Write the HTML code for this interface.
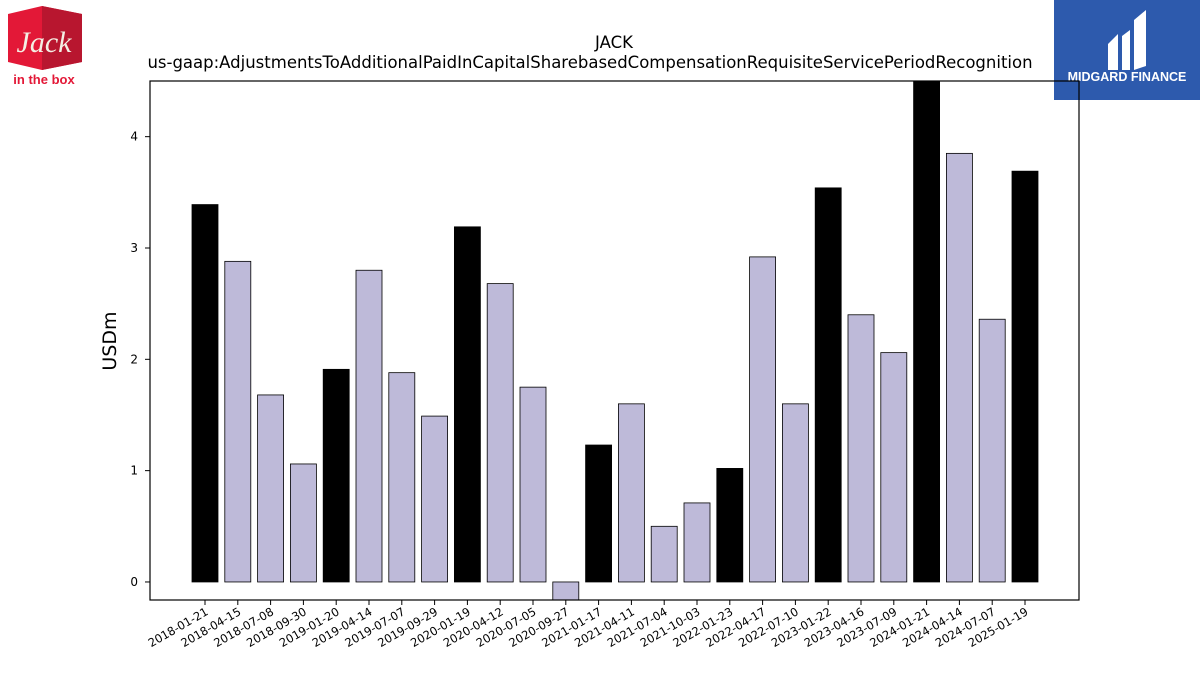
<!DOCTYPE html>
<html><head><meta charset="utf-8"><style>
body{margin:0;background:#fff;width:1200px;height:675px;overflow:hidden;font-family:"Liberation Sans","DejaVu Sans",sans-serif}
</style></head><body>
<svg id="chart" width="1200" height="675" xmlns="http://www.w3.org/2000/svg" font-family="DejaVu Sans, Liberation Sans, sans-serif">
<g>
<path d="M8,14 L42,6 L82,14 L82,62 L42,70 L8,62 Z" fill="#e31837"/>
<path d="M42,6 L82,14 L82,62 L42,70 Z" fill="#b8162f"/>
<text x="44" y="52" font-family="Liberation Serif, serif" font-style="italic" font-size="30" fill="#f4efe4" text-anchor="middle">Jack</text>
<text x="44" y="84" font-size="13" font-weight="bold" fill="#e31837" text-anchor="middle" font-family="Liberation Sans, sans-serif">in the box</text>
</g>
<g>
<rect x="1054" y="0" width="146" height="100" fill="#2d5aad"/>
<path d="M1108,44 L1118,34 L1118,70 L1108,70 Z M1122,36 L1130,30 L1130,70 L1122,70 Z M1134,20 L1146,10 L1146,66 L1134,70 Z" fill="#fff"/>
<text x="1127" y="81" font-size="12.5" font-weight="bold" fill="#fff" text-anchor="middle" font-family="Liberation Sans, sans-serif">MIDGARD FINANCE</text>
</g>
<text x="614" y="48" font-size="16.5" text-anchor="middle">JACK</text>
<text x="590" y="68" font-size="16.5" text-anchor="middle">us-gaap:AdjustmentsToAdditionalPaidInCapitalSharebasedCompensationRequisiteServicePeriodRecognition</text>
<g id="plot"></g>
</svg>
<script>
const categories=["2018-01-21","2018-04-15","2018-07-08","2018-09-30","2019-01-20","2019-04-14","2019-07-07","2019-09-29","2020-01-19","2020-04-12","2020-07-05","2020-09-27","2021-01-17","2021-04-11","2021-07-04","2021-10-03","2022-01-23","2022-04-17","2022-07-10","2023-01-22","2023-04-16","2023-07-09","2024-01-21","2024-04-14","2024-07-07","2025-01-19"];
const values=[3.39,2.88,1.68,1.06,1.91,2.80,1.88,1.49,3.19,2.68,1.75,-0.17,1.23,1.60,0.50,0.71,1.02,2.92,1.60,3.54,2.40,2.06,4.55,3.85,2.36,3.69];
const highlight=[1,0,0,0,1,0,0,0,1,0,0,0,1,0,0,0,1,0,0,1,0,0,1,0,0,1];
const yTicks=[0,1,2,3,4];
const NS="http://www.w3.org/2000/svg";
const L=150,R=1079,T=81,B=600;
const yMin=-0.162,yMax=4.5;
const y=v=>B-(v-yMin)/(yMax-yMin)*(B-T);
const x0=205,x1=1025;
const x=i=>x0+i*(x1-x0)/(categories.length-1);
const bw=26;
const g=document.getElementById('plot');
function mk(t,a){const e=document.createElementNS(NS,t);for(const k in a)e.setAttribute(k,a[k]);return e;}
const defs=mk('defs',{});const cp=mk('clipPath',{id:'clip'});cp.appendChild(mk('rect',{x:L,y:T,width:R-L,height:B-T}));defs.appendChild(cp);g.appendChild(defs);
const bars=mk('g',{'clip-path':'url(#clip)'});g.appendChild(bars);
values.forEach((v,i)=>{
 const top=Math.min(y(v),y(0)),h=Math.abs(y(v)-y(0));
 const r=mk('rect',{x:x(i)-bw/2,y:top,width:bw,height:h,fill:highlight[i]?'#000':'#bebad9',stroke:'#000','stroke-width':0.8});
 
 
 bars.appendChild(r);
});
const frame=mk('rect',{x:L,y:T,width:R-L,height:B-T,fill:'none',stroke:'#000','stroke-width':1.2});


g.appendChild(frame);
yTicks.forEach(t=>{
 g.appendChild(mk('line',{x1:L-5,x2:L,y1:y(t),y2:y(t),stroke:'#000'}));
 const tx=mk('text',{x:L-12,y:y(t)+4,'font-size':12,'text-anchor':'end'});
 tx.textContent=t;
 
 
 g.appendChild(tx);
});
categories.forEach((c,i)=>{
 g.appendChild(mk('line',{x1:x(i),x2:x(i),y1:B,y2:B+5,stroke:'#000'}));
 const tx=mk('text',{x:x(i)+4,y:B+14,'font-size':11.5,'text-anchor':'end',transform:`rotate(-30 ${x(i)+4} ${B+14})`});
 tx.textContent=c;
 
 
 g.appendChild(tx);
});
const yl=mk('text',{x:116,y:341,'font-size':19,'text-anchor':'middle',transform:'rotate(-90 116 341)'});
yl.textContent='USDm';


g.appendChild(yl);
</script>
</body></html>
